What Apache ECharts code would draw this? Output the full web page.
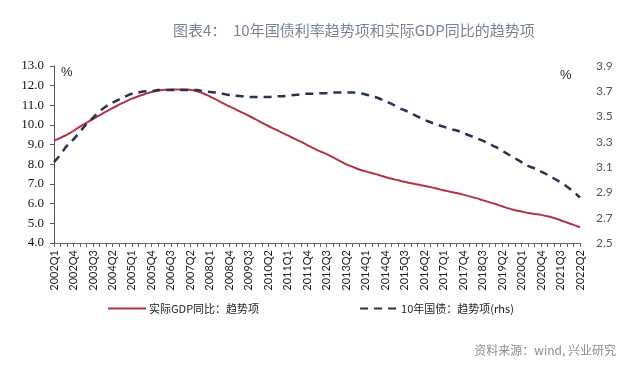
<!DOCTYPE html>
<html>
<head>
<meta charset="utf-8">
<script src="https://cdn.jsdelivr.net/npm/echarts@6/dist/echarts.min.js"></script>
<style>
html,body{margin:0;padding:0;background:#fff;}
#c{width:640px;height:384px;}
</style>
</head>
<body>
<div id="c"></div>
<script>
const quarters = [
'2002Q1','2002Q2','2002Q3','2002Q4','2003Q1','2003Q2','2003Q3','2003Q4',
'2004Q1','2004Q2','2004Q3','2004Q4','2005Q1','2005Q2','2005Q3','2005Q4',
'2006Q1','2006Q2','2006Q3','2006Q4','2007Q1','2007Q2','2007Q3','2007Q4',
'2008Q1','2008Q2','2008Q3','2008Q4','2009Q1','2009Q2','2009Q3','2009Q4',
'2010Q1','2010Q2','2010Q3','2010Q4','2011Q1','2011Q2','2011Q3','2011Q4',
'2012Q1','2012Q2','2012Q3','2012Q4','2013Q1','2013Q2','2013Q3','2013Q4',
'2014Q1','2014Q2','2014Q3','2014Q4','2015Q1','2015Q2','2015Q3','2015Q4',
'2016Q1','2016Q2','2016Q3','2016Q4','2017Q1','2017Q2','2017Q3','2017Q4',
'2018Q1','2018Q2','2018Q3','2018Q4','2019Q1','2019Q2','2019Q3','2019Q4',
'2020Q1','2020Q2','2020Q3','2020Q4','2021Q1','2021Q2','2021Q3','2021Q4',
'2022Q1','2022Q2'
];

const gdpTrend = [
9.20,9.35,9.51,9.70,9.92,10.11,10.30,10.49,10.68,10.86,
11.03,11.19,11.34,11.46,11.58,11.68,11.74,11.79,11.80,11.81,
11.81,11.79,11.72,11.60,11.45,11.29,11.11,10.95,10.79,10.63,
10.47,10.30,10.12,9.95,9.79,9.63,9.47,9.31,9.15,8.98,
8.81,8.66,8.52,8.35,8.18,8.00,7.87,7.74,7.64,7.55,
7.46,7.36,7.27,7.19,7.11,7.04,6.97,6.91,6.84,6.76,
6.68,6.61,6.54,6.46,6.37,6.28,6.18,6.08,5.98,5.87,
5.76,5.67,5.60,5.53,5.48,5.43,5.36,5.27,5.16,5.04,
4.92,4.80
];

const bondTrend = [
3.14,3.20,3.27,3.32,3.38,3.44,3.49,3.54,3.58,3.61,
3.635,3.66,3.68,3.69,3.70,3.70,3.71,3.71,3.71,3.71,
3.71,3.71,3.71,3.70,3.695,3.69,3.68,3.67,3.665,3.66,
3.655,3.655,3.655,3.655,3.66,3.66,3.665,3.67,3.675,3.68,
3.68,3.685,3.685,3.69,3.69,3.69,3.69,3.685,3.675,3.66,
3.645,3.62,3.60,3.57,3.55,3.525,3.50,3.475,3.455,3.435,
3.42,3.40,3.39,3.37,3.35,3.33,3.31,3.285,3.26,3.23,
3.20,3.17,3.14,3.11,3.09,3.065,3.04,3.01,2.98,2.945,
2.905,2.86
];

const seriesNames = ['实际GDP同比：趋势项', '10年国债：趋势项(rhs)'];
const titleText = '图表4：  10年国债利率趋势项和实际GDP同比的趋势项';
const sourceText = '资料来源：wind, 兴业研究';

const chart = echarts.init(document.getElementById('c'), null, {renderer: 'canvas'});
chart.setOption({
  animation: false,
  backgroundColor: '#ffffff',
  title: {
    text: titleText,
    left: 168, top: 18,
    textStyle: {fontFamily: 'Noto Sans CJK SC', fontSize: 15, fontWeight: 'normal', color: '#7a8591'}
  },
  grid: {left: 54, right: 60, top: 66, bottom: 141, containLabel: false},
  legend: {
    left: 102, top: 298,
    itemWidth: 38, itemHeight: 12, itemGap: 100,
    itemStyle: {opacity: 0},
    lineStyle: {opacity: 1},
    textStyle: {fontFamily: 'Noto Sans CJK SC', fontSize: 11, color: '#222', padding: [0, 0, 0, -2]},
    data: seriesNames
  },
  xAxis: {
    type: 'category',
    data: quarters,
    boundaryGap: false,
    axisLine: {lineStyle: {color: '#666', width: 1}},
    axisTick: {show: true, interval: 0, length: 4, lineStyle: {color: '#666'}},
    axisLabel: {interval: 2, rotate: 90, margin: 7, fontFamily: 'Lato', fontSize: 11, color: '#222'},
    splitLine: {show: false}
  },
  yAxis: [
    {
      type: 'value', min: 4, max: 13, interval: 1,
      axisLine: {show: true, lineStyle: {color: '#555'}},
      axisTick: {show: true, length: 4, lineStyle: {color: '#555'}},
      axisLabel: {margin: 10, fontFamily: 'Liberation Serif', fontSize: 13, color: '#111',
        formatter: v => v.toFixed(1)},
      splitLine: {show: false}
    },
    {
      type: 'value', min: 2.5, max: 3.9, interval: 0.1,
      axisLine: {show: false},
      axisTick: {show: false},
      axisLabel: {margin: 16, fontFamily: 'Lato', fontSize: 12, color: '#555',
        formatter: v => (Math.round((v - 2.5) * 10) % 2 === 0 ? v.toFixed(1) : '')},
      splitLine: {show: false}
    }
  ],
  graphic: [
    {type: 'text', left: 61, top: 66, style: {text: '%', font: '13px "Liberation Sans"', fill: '#222'}},
    {type: 'text', left: 560, top: 69, style: {text: '%', font: '13px "Liberation Sans"', fill: '#222'}},
    {type: 'text', right: 24, top: 344, style: {text: sourceText, font: '12px "Noto Sans CJK SC"', fill: '#8c8c8c'}}
  ],
  series: [
    {
      name: seriesNames[0], type: 'line', yAxisIndex: 0, data: gdpTrend,
      showSymbol: false, symbol: 'none', smooth: true,
      lineStyle: {color: '#b23448', width: 2},
      itemStyle: {color: '#b23448'}
    },
    {
      name: seriesNames[1], type: 'line', yAxisIndex: 1, data: bondTrend,
      showSymbol: false, symbol: 'none', smooth: true,
      lineStyle: {color: '#263450', width: 2.5, type: [8, 6]},
      itemStyle: {color: '#263450'}
    }
  ]
});
</script>
</body>
</html>
